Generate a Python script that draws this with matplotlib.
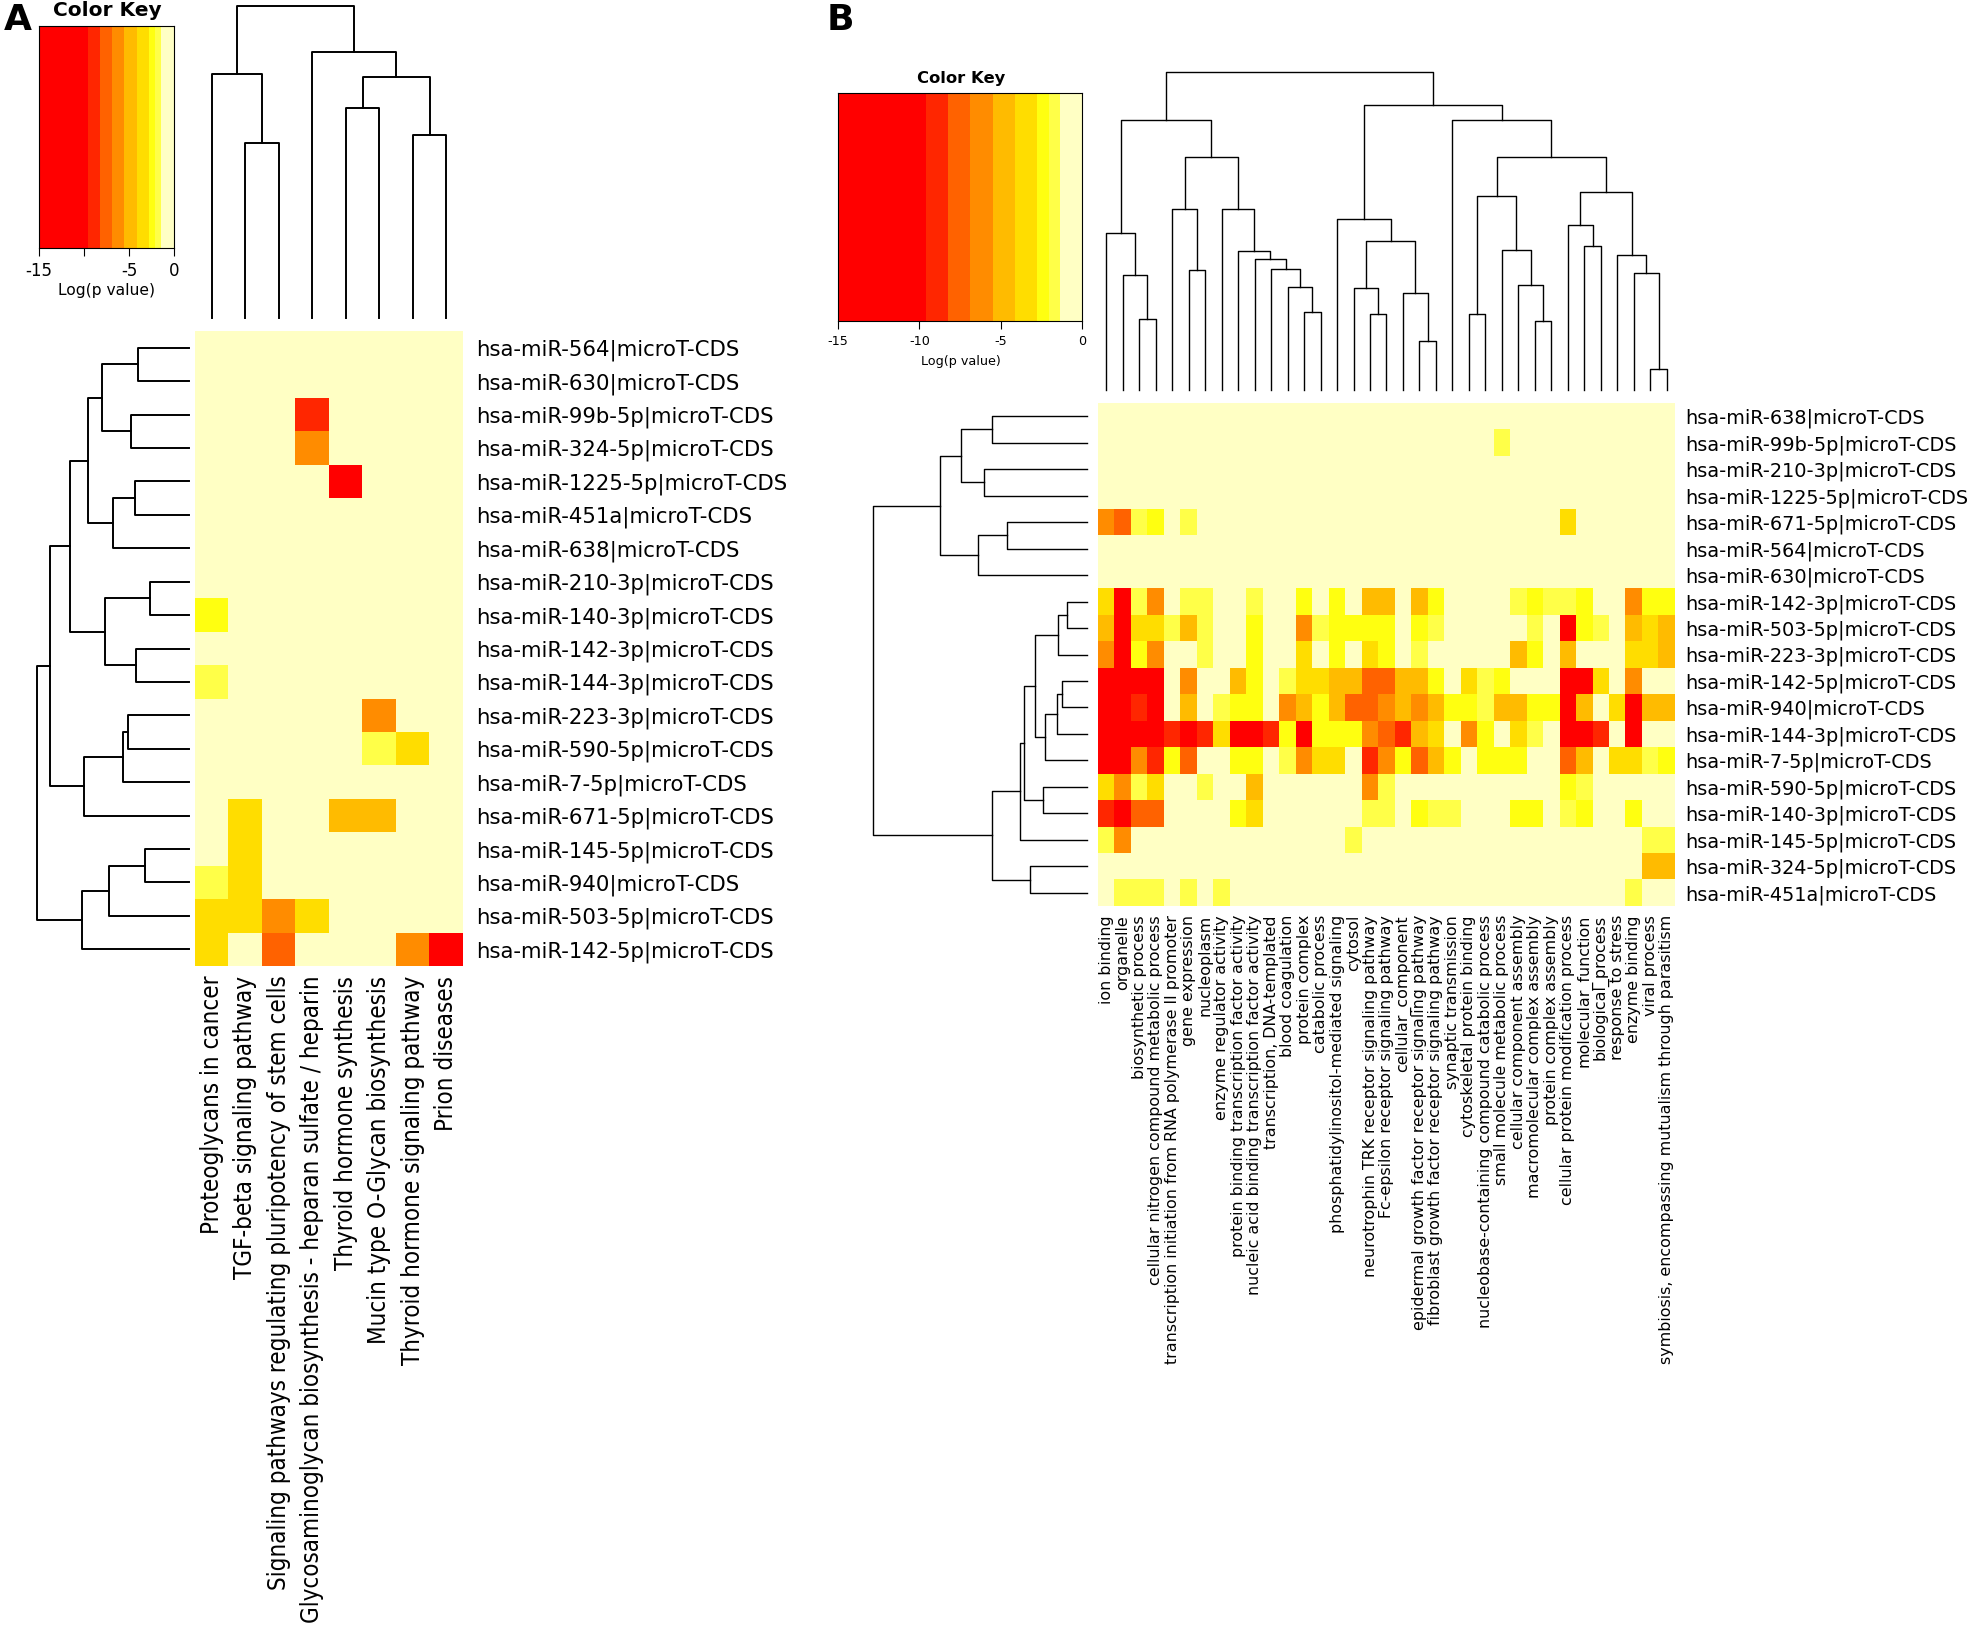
import numpy as np
import matplotlib
matplotlib.use("Agg")
import matplotlib.pyplot as plt
from matplotlib.colors import ListedColormap, BoundaryNorm
from matplotlib import font_manager as fm

# ---------------- data ----------------
key_bounds = [-15, -9.6, -8.25, -6.9, -5.5, -4.15, -2.8, -2.1, -1.4, 0]
key_colors = ['#FF0000', '#FF2600', '#FF6200', '#FF8C00', '#FFBB00',
              '#FFDD00', '#FFFF10', '#FFFF48', '#FFFFC4']
key_ticks = [-15, -10, -5, 0]
key_ticklabels_A = ['-15', '', '-5', '0']
key_ticklabels_B = ['-15', '-10', '-5', '0']

rows_A = ["hsa-miR-564|microT-CDS", "hsa-miR-630|microT-CDS", "hsa-miR-99b-5p|microT-CDS",
          "hsa-miR-324-5p|microT-CDS", "hsa-miR-1225-5p|microT-CDS", "hsa-miR-451a|microT-CDS",
          "hsa-miR-638|microT-CDS", "hsa-miR-210-3p|microT-CDS", "hsa-miR-140-3p|microT-CDS",
          "hsa-miR-142-3p|microT-CDS", "hsa-miR-144-3p|microT-CDS", "hsa-miR-223-3p|microT-CDS",
          "hsa-miR-590-5p|microT-CDS", "hsa-miR-7-5p|microT-CDS", "hsa-miR-671-5p|microT-CDS",
          "hsa-miR-145-5p|microT-CDS", "hsa-miR-940|microT-CDS", "hsa-miR-503-5p|microT-CDS",
          "hsa-miR-142-5p|microT-CDS"]
cols_A = ["Proteoglycans in cancer", "TGF-beta signaling pathway",
          "Signaling pathways regulating pluripotency of stem cells",
          "Glycosaminoglycan biosynthesis - heparan sulfate / heparin",
          "Thyroid hormone synthesis", "Mucin type O-Glycan biosynthesis",
          "Thyroid hormone signaling pathway", "Prion diseases"]
logp_A = [
    [-0.5, -0.5, -0.5, -0.5, -0.5, -0.5, -0.5, -0.5],
    [-0.5, -0.5, -0.5, -0.5, -0.5, -0.5, -0.5, -0.5],
    [-0.5, -0.5, -0.5, -8.8, -0.5, -0.5, -0.5, -0.5],
    [-0.5, -0.5, -0.5, -6.0, -0.5, -0.5, -0.5, -0.5],
    [-0.5, -0.5, -0.5, -0.5, -12., -0.5, -0.5, -0.5],
    [-0.5, -0.5, -0.5, -0.5, -0.5, -0.5, -0.5, -0.5],
    [-0.5, -0.5, -0.5, -0.5, -0.5, -0.5, -0.5, -0.5],
    [-0.5, -0.5, -0.5, -0.5, -0.5, -0.5, -0.5, -0.5],
    [-2.4, -0.5, -0.5, -0.5, -0.5, -0.5, -0.5, -0.5],
    [-0.5, -0.5, -0.5, -0.5, -0.5, -0.5, -0.5, -0.5],
    [-1.8, -0.5, -0.5, -0.5, -0.5, -0.5, -0.5, -0.5],
    [-0.5, -0.5, -0.5, -0.5, -0.5, -6.0, -0.5, -0.5],
    [-0.5, -0.5, -0.5, -0.5, -0.5, -1.8, -3.5, -0.5],
    [-0.5, -0.5, -0.5, -0.5, -0.5, -0.5, -0.5, -0.5],
    [-0.5, -3.5, -0.5, -0.5, -4.8, -4.8, -0.5, -0.5],
    [-0.5, -3.5, -0.5, -0.5, -0.5, -0.5, -0.5, -0.5],
    [-1.8, -3.5, -0.5, -0.5, -0.5, -0.5, -0.5, -0.5],
    [-3.5, -3.5, -6.0, -3.5, -0.5, -0.5, -0.5, -0.5],
    [-3.5, -0.5, -7.0, -0.5, -0.5, -0.5, -6.0, -12.],
]
# merges: (left, right, height); leaves 0..n-1 in display order, merge k -> n+k
tree_cols_A = [(1, 2, 525), (0, 8, 733), (4, 5, 632), (6, 7, 550),
               (10, 11, 725), (3, 12, 798), (9, 13, 937)]
tree_rows_A = [(0, 1, 160), (2, 3, 182), (19, 20, 273), (4, 5, 169), (22, 6, 240),
               (21, 23, 317), (7, 8, 122), (9, 10, 165), (25, 26, 265), (24, 27, 373),
               (11, 12, 190), (29, 13, 208), (30, 14, 329), (28, 31, 435),
               (15, 16, 139), (33, 17, 252), (34, 18, 337), (32, 35, 477)]

rows_B = ["hsa-miR-638|microT-CDS", "hsa-miR-99b-5p|microT-CDS", "hsa-miR-210-3p|microT-CDS",
          "hsa-miR-1225-5p|microT-CDS", "hsa-miR-671-5p|microT-CDS", "hsa-miR-564|microT-CDS",
          "hsa-miR-630|microT-CDS", "hsa-miR-142-3p|microT-CDS", "hsa-miR-503-5p|microT-CDS",
          "hsa-miR-223-3p|microT-CDS", "hsa-miR-142-5p|microT-CDS", "hsa-miR-940|microT-CDS",
          "hsa-miR-144-3p|microT-CDS", "hsa-miR-7-5p|microT-CDS", "hsa-miR-590-5p|microT-CDS",
          "hsa-miR-140-3p|microT-CDS", "hsa-miR-145-5p|microT-CDS", "hsa-miR-324-5p|microT-CDS",
          "hsa-miR-451a|microT-CDS"]
cols_B = ["ion binding", "organelle", "biosynthetic process",
          "cellular nitrogen compound metabolic process",
          "transcription initiation from RNA polymerase II promoter", "gene expression",
          "nucleoplasm", "enzyme regulator activity",
          "protein binding transcription factor activity",
          "nucleic acid binding transcription factor activity",
          "transcription, DNA-templated", "blood coagulation", "protein complex",
          "catabolic process", "phosphatidylinositol-mediated signaling", "cytosol",
          "neurotrophin TRK receptor signaling pathway",
          "Fc-epsilon receptor signaling pathway", "cellular_component",
          "epidermal growth factor receptor signaling pathway",
          "fibroblast growth factor receptor signaling pathway", "synaptic transmission",
          "cytoskeletal protein binding", "nucleobase-containing compound catabolic process",
          "small molecule metabolic process", "cellular component assembly",
          "macromolecular complex assembly", "protein complex assembly",
          "cellular protein modification process", "molecular_function",
          "biological_process", "response to stress", "enzyme binding", "viral process",
          "symbiosis, encompassing mutualism through parasitism"]
logp_B = [
    [-0.5] * 35,
    [-0.5] * 24 + [-1.8] + [-0.5] * 10,
    [-0.5] * 35,
    [-0.5] * 35,
    [-6.2, -7.5, -1.8, -2.4, -0.5, -1.8] + [-0.5] * 22 + [-3.5] + [-0.5] * 6,
    [-0.5] * 35,
    [-0.5] * 35,
    [-3.5, -12., -1.8, -6.2, -0.5, -1.8, -1.8, -0.5, -0.5, -1.8,
     -0.5, -0.5, -2.4, -0.5, -2.4, -0.5, -4.8, -4.8, -0.5, -4.8,
     -2.4, -0.5, -0.5, -0.5, -0.5, -1.8, -2.4, -1.8, -1.8, -2.4,
     -0.5, -0.5, -6.2, -2.4, -2.4],
    [-4.8, -12., -3.5, -3.5, -1.8, -4.8, -1.8, -0.5, -0.5, -2.4,
     -0.5, -0.5, -6.6, -1.8, -2.4, -2.4, -2.4, -2.4, -0.5, -2.4,
     -1.8, -0.5, -0.5, -0.5, -0.5, -0.5, -1.8, -0.5, -12., -2.4,
     -1.8, -0.5, -4.8, -3.5, -4.8],
    [-6.2, -12., -2.4, -6.2, -0.5, -0.5, -1.8, -0.5, -0.5, -2.4,
     -0.5, -0.5, -3.5, -0.5, -2.4, -0.5, -3.5, -2.4, -0.5, -1.8,
     -0.5, -0.5, -0.5, -0.5, -0.5, -4.8, -2.4, -0.5, -4.8, -0.5,
     -0.5, -0.5, -3.5, -3.5, -4.8],
    [-12., -12., -12., -12., -0.5, -6.8, -0.5, -0.5, -4.8, -2.4,
     -0.5, -1.8, -3.5, -3.5, -4.8, -4.8, -7.5, -7.2, -4.8, -4.8,
     -2.4, -0.5, -3.5, -1.8, -2.4, -0.5, -0.5, -0.5, -12., -12.,
     -3.5, -0.5, -6.8, -0.5, -0.5],
    [-12., -12., -8.9, -12., -0.5, -4.8, -0.5, -1.8, -2.4, -2.4,
     -0.5, -6.8, -4.8, -2.4, -4.8, -7.5, -7.5, -6.2, -4.8, -6.2,
     -4.8, -2.4, -2.4, -1.8, -4.8, -4.8, -2.4, -2.4, -12., -4.8,
     -0.5, -3.5, -12., -4.8, -4.8],
    [-12., -12., -12., -12., -8.9, -12., -8.9, -3.5, -12., -12.,
     -8.9, -2.4, -10.5, -2.4, -2.4, -2.4, -6.2, -7.2, -8.9, -4.8,
     -3.5, -0.5, -6.2, -2.4, -0.5, -3.5, -1.8, -0.5, -12., -12.,
     -9.2, -0.5, -12., -0.5, -0.5],
    [-12., -12., -5.8, -9.2, -2.4, -7.5, -0.5, -0.5, -2.4, -2.4,
     -0.5, -1.8, -6.2, -3.5, -3.5, -0.5, -8.9, -6.2, -2.4, -7.5,
     -4.8, -2.4, -0.5, -2.4, -2.4, -2.4, -0.5, -0.5, -7.5, -4.8,
     -0.5, -3.5, -3.5, -1.8, -2.4],
    [-3.5, -6.2, -1.8, -3.5, -0.5, -0.5, -1.8, -0.5, -0.5, -4.8,
     -0.5, -0.5, -0.5, -0.5, -0.5, -0.5, -6.2, -1.8, -0.5, -0.5,
     -0.5, -0.5, -0.5, -0.5, -0.5, -0.5, -0.5, -0.5, -2.4, -1.8,
     -0.5, -0.5, -0.5, -0.5, -0.5],
    [-8.9, -11., -7.5, -7.5, -0.5, -0.5, -0.5, -0.5, -2.4, -3.5,
     -0.5, -0.5, -0.5, -0.5, -0.5, -0.5, -1.8, -1.8, -0.5, -2.4,
     -1.8, -1.8, -0.5, -0.5, -0.5, -2.4, -2.4, -0.5, -1.8, -2.4,
     -0.5, -0.5, -2.4, -0.5, -0.5],
    [-1.8, -6.0] + [-0.5] * 13 + [-1.8] + [-0.5] * 17 + [-1.8, -1.8],
    [-0.5] * 33 + [-4.8, -4.8],
    [-0.5, -1.8, -1.8, -1.8, -0.5, -1.8, -0.5, -1.8] + [-0.5] * 24 + [-1.8, -0.5, -0.5],
]
tree_cols_B = [(2, 3, 212), (1, 35, 344), (0, 36, 468), (5, 6, 357), (4, 38, 540),
               (12, 13, 233), (11, 40, 308), (10, 41, 362), (9, 42, 390), (8, 43, 414),
               (7, 44, 540), (39, 45, 694), (37, 46, 806), (16, 17, 228), (15, 48, 304),
               (19, 20, 145), (18, 50, 290), (49, 51, 444), (14, 52, 510), (22, 23, 226),
               (26, 27, 205), (25, 55, 314), (24, 56, 416), (54, 57, 577), (29, 30, 428),
               (28, 59, 493), (33, 34, 62), (32, 61, 348), (31, 62, 401), (60, 63, 590),
               (58, 64, 694), (21, 65, 806), (53, 66, 850), (47, 67, 948)]
tree_rows_B = [(0, 1, 287), (2, 3, 310), (19, 20, 381), (4, 5, 241), (22, 6, 328),
               (21, 23, 442), (7, 8, 59), (25, 9, 87), (10, 11, 74), (27, 12, 90),
               (28, 13, 128), (26, 29, 157), (14, 15, 133), (30, 31, 191), (32, 16, 203),
               (17, 18, 173), (33, 34, 285), (24, 35, 645)]

# ---------------- figure ----------------
W, H = 1974, 1629
fig = plt.figure(figsize=(W / 100, H / 100), dpi=100)
cmap = ListedColormap(key_colors)
norm = BoundaryNorm(key_bounds, cmap.N)

cond_path = fm.findfont(fm.FontProperties(family='DejaVu Sans', stretch='condensed'))
HAS_COND = 'condensed' in cond_path.lower()


def ax_px(x0, y0, x1, y1):
    return fig.add_axes([x0 / W, 1 - y1 / H, (x1 - x0) / W, (y1 - y0) / H])


def draw_tree(ax, n, merges, orient, lw):
    pos = [float(i) for i in range(n)]
    hgt = [0.0] * n
    for a, b, h in merges:
        xa, xb, ha_, hb = pos[a], pos[b], hgt[a], hgt[b]
        if orient == 'top':
            ax.plot([xa, xa, xb, xb], [ha_, h, h, hb], color='black', lw=lw, clip_on=False)
        else:
            ax.plot([ha_, h, h, hb], [xa, xa, xb, xb], color='black', lw=lw, clip_on=False)
        pos.append((xa + xb) / 2)
        hgt.append(h)
    top = max(hgt)
    if orient == 'top':
        ax.set_xlim(-0.5, n - 0.5)
        ax.set_ylim(0, top)
    else:
        ax.set_ylim(n - 0.5, -0.5)
        ax.set_xlim(top, 0)
    ax.axis('off')


def heat(ax, data, rlabels, clabels, rfs, cfs, rpad, cpad, cfont):
    m = np.array(data)
    ax.imshow(m, cmap=cmap, norm=norm, aspect='auto', interpolation='nearest')
    for s in ax.spines.values():
        s.set_visible(False)
    ax.set_yticks(range(len(rlabels)))
    ax.yaxis.tick_right()
    ax.set_yticklabels(rlabels, fontsize=rfs)
    ax.set_xticks(range(len(clabels)))
    ax.set_xticklabels(clabels, rotation=90, fontsize=cfs, **cfont)
    ax.tick_params(axis='y', length=0, pad=rpad)
    ax.tick_params(axis='x', length=0, pad=cpad)


def key(ax, labels, fs):
    grad = np.linspace(-15, 0, 1500).reshape(1, -1)
    ax.imshow(grad, cmap=cmap, norm=norm, aspect='auto', extent=[-15, 0, 0, 1],
              interpolation='nearest')
    ax.set_xlim(-15, 0)
    ax.set_yticks([])
    ax.set_xticks(key_ticks)
    ax.set_xticklabels(labels, fontsize=fs)
    ax.tick_params(axis='x', direction='out', length=6, width=0.8, pad=4)
    for s in ax.spines.values():
        s.set_linewidth(0.8)


# ---- Panel A ----
fig.text(4 / W, 1 - 3 / H, 'A', fontsize=26, fontweight='bold', ha='left', va='top')
axk = ax_px(39, 26, 174, 248)
key(axk, key_ticklabels_A, 12)
fig.text(107 / W, 1 - 10 / H, 'Color Key', fontsize=14.5, fontweight='bold', ha='center', va='center')
fig.text(107 / W, 1 - 291 / H, 'Log(p value)', fontsize=11.2, ha='center', va='center')

axd = ax_px(195, 6, 463, 318)
draw_tree(axd, len(cols_A), tree_cols_A, 'top', 1.4)
axl = ax_px(37, 331, 189, 966)
draw_tree(axl, len(rows_A), tree_rows_A, 'left', 1.4)
if HAS_COND:
    cfontA = dict(family='DejaVu Sans', fontstretch='condensed')
    cfsA = 17.3
else:
    cfontA = dict(family='DejaVu Sans')
    cfsA = 15.6
axh = ax_px(195, 331, 463, 966)
heat(axh, logp_A, rows_A, cols_A, 15.3, cfsA, 9.5, 7, cfontA)

# ---- Panel B ----
fig.text(827 / W, 1 - 3 / H, 'B', fontsize=26, fontweight='bold', ha='left', va='top')
axk2 = ax_px(838, 93, 1082, 321)
key(axk2, key_ticklabels_B, 9.2)
fig.text(961 / W, 1 - 78 / H, 'Color Key', fontsize=11.8, fontweight='bold', ha='center', va='center')
fig.text(961 / W, 1 - 361 / H, 'Log(p value)', fontsize=9.2, ha='center', va='center')

axd2 = ax_px(1098, 72, 1675, 390)
draw_tree(axd2, len(cols_B), tree_cols_B, 'top', 1.0)
axl2 = ax_px(873, 403, 1087, 906)
draw_tree(axl2, len(rows_B), tree_rows_B, 'left', 1.0)
axh2 = ax_px(1098, 403, 1675, 906)
heat(axh2, logp_B, rows_B, cols_B, 13.9, 11.4, 7.2, 6.5, dict(family='DejaVu Sans'))

fig.savefig('out.png', dpi=100)
